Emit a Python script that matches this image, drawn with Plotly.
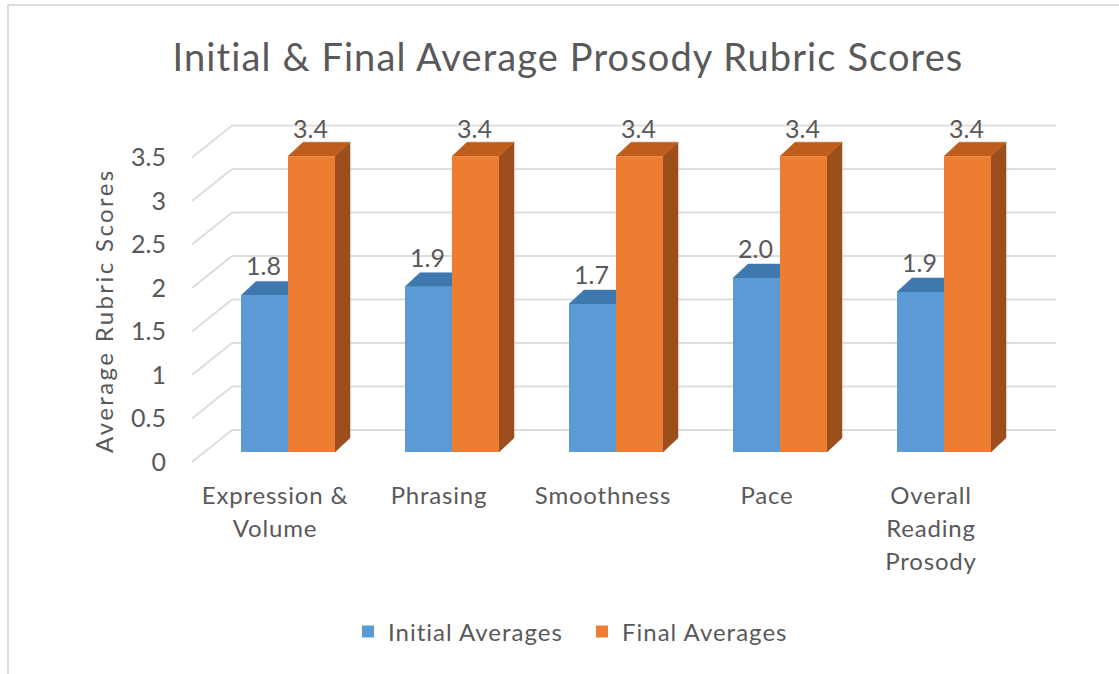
import plotly.graph_objects as go

categories = ["Expression &<br>Volume", "Phrasing", "Smoothness", "Pace", "Overall<br>Reading<br>Prosody"]
initial_avg = [1.8, 1.9, 1.7, 2.0, 1.84]
final_avg = [3.4, 3.4, 3.4, 3.4, 3.4]
initial_labels = ["1.8", "1.9", "1.7", "2.0", "1.9"]
final_labels = ["3.4", "3.4", "3.4", "3.4", "3.4"]
y_ticks = [0, 0.5, 1, 1.5, 2, 2.5, 3, 3.5]
y_tick_text = ["0", "0.5", "1", "1.5", "2", "2.5", "3", "3.5"]

TEXT = "#595959"
BLUE, ORANGE = "#5B9BD5", "#ED7D31"
BLUE_TOP, ORANGE_TOP, ORANGE_SIDE = "#3F78AE", "#BF5E1C", "#9C4F1C"
GRID = "#DDDDDD"
FRAME = "#DCDCDC"
FONT = "Lato"

BAR_W = 47 / 164          # bar width in category units
DX, DY = 15 / 164, 14 / 87  # bar depth
GRID_X0, GRID_X1, GRID_X2 = -0.585, -0.3415, 4.683
GRID_BACK, GRID_FRONT = 0.253, -0.115


def styled(text, style):
    return "<br>".join(f'<span style="{style}">{part}</span>' for part in text.split("<br>"))


positions = list(range(len(categories)))
label_html = [styled(c, "font-size:24px;letter-spacing:0.8px") for c in categories]

fig = go.Figure()
fig.add_bar(name=styled("Initial Averages", "letter-spacing:1px"), x=positions, y=initial_avg,
            marker=dict(color=BLUE, line_width=0))
fig.add_bar(name=styled("Final Averages", "letter-spacing:1px"), x=positions, y=final_avg,
            marker=dict(color=ORANGE, line_width=0))

shapes = []
for t in y_ticks:
    shapes.append(dict(type="line", xref="x", yref="y", layer="below",
                       x0=GRID_X0, y0=t + GRID_FRONT, x1=GRID_X1, y1=t + GRID_BACK,
                       line=dict(color=GRID, width=2)))
    shapes.append(dict(type="line", xref="x", yref="y", layer="below",
                       x0=GRID_X1, y0=t + GRID_BACK, x1=GRID_X2, y1=t + GRID_BACK,
                       line=dict(color=GRID, width=2)))


def poly(points, color):
    path = "M " + " L ".join(f"{a},{b}" for a, b in points) + " Z"
    return dict(type="path", xref="x", yref="y", layer="below", path=path,
                fillcolor=color, line=dict(color=color, width=0.5))


annotations = []
for i in positions:
    a, b = initial_avg[i], final_avg[i]
    shapes.append(poly([(i - BAR_W, a), (i, a), (i + DX, a + DY), (i - BAR_W + DX, a + DY)], BLUE_TOP))
    shapes.append(poly([(i + BAR_W, 0), (i + BAR_W + DX, DY), (i + BAR_W + DX, b + DY), (i + BAR_W, b)], ORANGE_SIDE))
    shapes.append(poly([(i, b), (i + BAR_W, b), (i + BAR_W + DX, b + DY), (i + DX, b + DY)], ORANGE_TOP))
    annotations.append(dict(x=i - BAR_W / 2, y=a, xref="x", yref="y", text=initial_labels[i], showarrow=False,
                            yshift=30, xshift=-1, font=dict(family=FONT, size=25, color=TEXT)))
    annotations.append(dict(x=i + BAR_W / 2, y=b, xref="x", yref="y", text=final_labels[i], showarrow=False,
                            yshift=28, xshift=-1, font=dict(family=FONT, size=25, color=TEXT)))

# plot area in page pixels: x 180..1070, y 115..470; paper coordinates follow it
PLOT_W, PLOT_H = 890, 355
px = lambda v: (v - 180) / PLOT_W
py = lambda v: (470 - v) / PLOT_H
shapes.append(dict(type="line", xref="paper", yref="paper", x0=px(8), x1=px(1119), y0=py(5), y1=py(5),
                   line=dict(color=FRAME, width=2)))
shapes.append(dict(type="line", xref="paper", yref="paper", x0=px(8), x1=px(8), y0=py(674), y1=py(5),
                   line=dict(color=FRAME, width=2)))

annotations.append(dict(xref="paper", yref="paper", x=px(103), y=py(311), xanchor="center", yanchor="middle",
                        textangle=-90, showarrow=False,
                        text=styled("Average Rubric Scores", "letter-spacing:2.4px"),
                        font=dict(family=FONT, size=24, color=TEXT)))

fig.update_layout(
    width=1119, height=674, autosize=False,
    margin=dict(l=180, r=49, t=115, b=204),
    paper_bgcolor="white", plot_bgcolor="rgba(0,0,0,0)",
    barmode="group", bargap=1 - 94 / 164, bargroupgap=0,
    font=dict(family=FONT, color=TEXT),
    title=dict(text=styled("Initial &amp; Final Average Prosody Rubric Scores", "letter-spacing:1.1px"),
               x=568 / 1119, xanchor="center", y=1 - 58 / 674, yanchor="middle",
               font=dict(family=FONT, size=38, color=TEXT)),
    xaxis=dict(range=[-108 / 164, 782 / 164], tickmode="array", tickvals=positions, ticktext=label_html,
               showgrid=False, zeroline=False, showline=False, ticks="",
               tickfont=dict(family=FONT, size=25.4, color=TEXT), ticklabelstandoff=8, ticklabelshift=-13),
    yaxis=dict(range=[-18 / 87, 337 / 87], tickmode="array", tickvals=y_ticks, ticktext=y_tick_text,
               showgrid=False, zeroline=False, showline=False, ticks="",
               tickfont=dict(family=FONT, size=25, color=TEXT), ticklabelshift=10, ticklabelstandoff=13),
    legend=dict(orientation="h", x=px(348), xanchor="left", y=py(632), yanchor="middle",
                entrywidth=189, entrywidthmode="pixels",
                font=dict(family=FONT, size=24, color=TEXT), traceorder="normal",
                bgcolor="rgba(0,0,0,0)"),
    shapes=shapes, annotations=annotations,
)

fig.write_html("out.html", config=dict(displayModeBar=False),
               post_script="document.body.style.margin='0';document.body.style.overflow='hidden';")
